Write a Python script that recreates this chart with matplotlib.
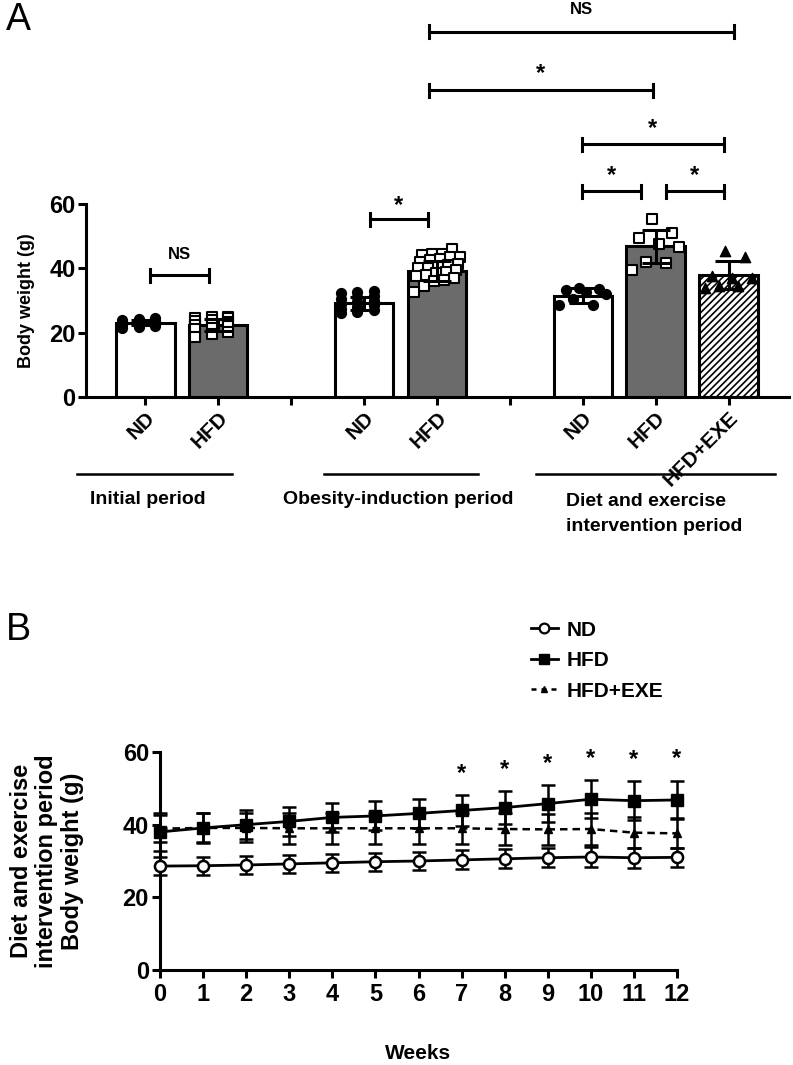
import numpy as np
import matplotlib
matplotlib.use("Agg")
import matplotlib.pyplot as plt
from matplotlib import font_manager
from matplotlib.lines import Line2D

names = {f.name for f in font_manager.fontManager.ttflist}
REG = 'Liberation Sans' if 'Liberation Sans' in names else 'DejaVu Sans'
NAR = 'Liberation Sans Narrow' if 'Liberation Sans Narrow' in names else REG
plt.rcParams['font.family'] = [REG, 'DejaVu Sans']
plt.rcParams['hatch.linewidth'] = 1.2

# ---------------- Panel A data ----------------
bar_labels = ["ND", "HFD", "ND", "HFD", "ND", "HFD", "HFD+EXE"]
bar_positions = [0, 1, 3, 4, 6, 7, 8]
bar_means = [23.1, 22.4, 29.2, 39.2, 31.5, 46.8, 37.9]
bar_sds = [0.8, 1.8, 2.0, 3.0, 2.4, 5.1, 4.4]
bar_kind = ["ND", "HFD", "ND", "HFD", "ND", "HFD", "EXE"]

pts_initial_nd = [24.5, 24.3, 23.8, 23.5, 23.5, 23.2, 23.0, 23.0, 22.8, 22.5, 22.3, 22.0, 21.8, 21.5, 23.4]
pts_initial_hfd = [25.0, 24.8, 24.5, 24.6, 24.0, 23.5, 23.2, 22.8, 22.3, 22.0, 21.5, 21.0, 20.3, 19.5, 18.8]
pts_obese_nd = [33.0, 32.5, 32.3, 31.5, 31.0, 30.5, 30.0, 29.5, 29.0, 28.5, 28.0, 27.5, 27.0, 26.5, 26.0]
pts_obese_hfd = [46.0, 44.5, 44.5, 44.0, 43.5, 43.5, 43.0, 42.5, 42.0, 41.5, 41.0, 40.5,
                 40.0, 40.0, 39.5, 39.0, 38.5, 38.0, 37.5, 37.0, 36.5, 36.0, 34.5, 32.5]
pts_interv_nd = [33.5, 33.9, 33.2, 32.5, 32.0, 30.5, 28.5, 28.5]
pts_interv_hfd = [55.2, 50.9, 49.3, 47.6, 46.7, 42.1, 41.6, 39.5]
pts_interv_exe = [45.5, 43.6, 37.0, 37.5, 37.0, 34.5, 34.0, 34.5]
bar_points = [pts_initial_nd, pts_initial_hfd, pts_obese_nd, pts_obese_hfd,
              pts_interv_nd, pts_interv_hfd, pts_interv_exe]

group_labels = ["Initial period", "Obesity-induction period", "Diet and exercise\nintervention period"]

# ---------------- Panel B data ----------------
weeks = list(range(13))
nd_mean = [28.6, 28.7, 28.9, 29.2, 29.5, 29.8, 30.0, 30.3, 30.6, 30.9, 31.1, 30.9, 31.0]
nd_sd = [2.5, 2.5, 2.5, 2.5, 2.5, 2.5, 2.5, 2.6, 2.6, 2.6, 2.7, 2.7, 2.7]
hfd_mean = [38.0, 39.1, 40.0, 40.9, 42.0, 42.4, 43.1, 43.9, 44.7, 45.8, 47.0, 46.6, 46.8]
hfd_sd = [5.3, 4.2, 4.0, 4.0, 3.9, 4.0, 4.1, 4.3, 4.6, 5.1, 5.2, 5.4, 5.3]
exe_mean = [38.9, 39.1, 39.1, 39.0, 39.0, 39.0, 39.0, 39.0, 38.8, 38.7, 38.8, 37.8, 37.6]
exe_sd = [3.8, 4.0, 4.0, 4.2, 4.2, 4.2, 4.2, 4.2, 4.3, 4.3, 4.3, 4.3, 4.1]
star_weeks = [7, 8, 9, 10, 11, 12]

W, H = 793, 1065
fig = plt.figure(figsize=(W / 100, H / 100), dpi=100)

def fr(x0, y0, x1, y1):
    return [x0 / W, 1 - y1 / H, (x1 - x0) / W, (y1 - y0) / H]

LW = 2.2
# ================= Panel A =================
axA = fig.add_axes(fr(86, 204, 789, 397))
axA.set_xlim(-0.815, 8.83)
axA.set_ylim(0, 60)
for k, (x, m, s, kind, pts) in enumerate(zip(bar_positions, bar_means, bar_sds, bar_kind, bar_points)):
    if kind == "ND":
        fc, hatch = "white", None
    elif kind == "HFD":
        fc, hatch = "#6b6b6b", None
    else:
        fc, hatch = "white", "/////"
    axA.bar(x, m, width=0.8, color=fc, edgecolor="black", linewidth=LW, hatch=hatch, zorder=1)
    n = len(pts)
    order = np.argsort(pts)
    offs = np.linspace(-0.32, 0.32, n)
    perm = [(i * 5) % n for i in range(n)]
    xs = np.empty(n)
    xs[order] = offs[perm]
    if kind == "ND":
        axA.scatter(x + xs, pts, s=50, marker="o", color="black", zorder=3, clip_on=False)
    elif kind == "HFD":
        axA.scatter(x + xs, pts, s=58, marker="s", facecolor="white", edgecolor="black",
                    linewidth=1.5, zorder=3, clip_on=False)
    else:
        axA.scatter(x + xs, pts, s=55, marker="^", color="black", zorder=3, clip_on=False)
    axA.errorbar(x, m, yerr=s, fmt="none", ecolor="black", elinewidth=LW, capsize=10,
                 capthick=LW, zorder=4, clip_on=False)

axA.spines["top"].set_visible(False)
axA.spines["right"].set_visible(False)
for sp in ["left", "bottom"]:
    axA.spines[sp].set_linewidth(LW)
axA.set_yticks([0, 20, 40, 60])
axA.set_xticks([0, 1, 2, 3, 4, 5, 6, 7, 8])
axA.set_xticklabels(["ND", "HFD", "", "ND", "HFD", "", "ND", "HFD", "HFD+EXE"],
                    rotation=45, ha="right", va="top", rotation_mode="anchor",
                    fontsize=15, fontweight="bold")
axA.tick_params(axis="both", width=LW, length=6, direction="out")
axA.tick_params(axis="x", pad=2)
axA.tick_params(axis="y", pad=1.5)
for lab in axA.get_yticklabels():
    lab.set_fontfamily(NAR); lab.set_fontweight("bold"); lab.set_fontsize(17)
axA.set_ylabel("Body weight (g)", fontsize=13, fontweight="bold", labelpad=10)

def bracket(ax, x0, x1, y, text, ty, fs=15):
    ax.plot([x0, x1], [y, y], color="black", lw=LW, clip_on=False)
    h = 2.0
    ax.plot([x0, x0], [y - h, y + h], color="black", lw=LW, clip_on=False)
    ax.plot([x1, x1], [y - h, y + h], color="black", lw=LW, clip_on=False)
    ax.text((x0 + x1) / 2, ty, text, ha="center", va="center", fontsize=fs,
            fontweight="bold", clip_on=False)

def px2x(px):
    return (px - 145.5) / 72.9

bracket(axA, px2x(150), px2x(209), 37.8, "NS", 44.3, fs=12)
bracket(axA, px2x(370), px2x(428), 55.3, "*", 59.5, fs=17)
bracket(axA, px2x(582), px2x(641), 64.0, "*", 68.8, fs=17)
bracket(axA, px2x(666), px2x(724), 64.0, "*", 68.8, fs=17)
bracket(axA, px2x(582), px2x(724), 78.6, "*", 83.4, fs=17)
bracket(axA, px2x(429), px2x(653), 95.4, "*", 100.6, fs=17)
bracket(axA, px2x(429), px2x(734), 113.5, "NS", 120.5, fs=12)

# group lines and labels (figure pixel positions)
for (x0, x1) in [(77, 232), (324, 478), (536, 775)]:
    fig.add_artist(Line2D([x0 / W, x1 / W], [1 - 474 / H, 1 - 474 / H], color="black", lw=1.8))
fig.text(148 / W, 1 - 500 / H, group_labels[0], ha="center", va="center",
         fontsize=14, fontweight="bold", family=NAR)
fig.text(398 / W, 1 - 500 / H, group_labels[1], ha="center", va="center",
         fontsize=14, fontweight="bold", family=NAR)
fig.text(566 / W, 1 - 514 / H, group_labels[2], ha="left", va="center",
         fontsize=14, fontweight="bold", family=NAR, linespacing=1.55)

fig.text(6 / W, 1 - 20 / H, "A", fontsize=27, ha="left", va="center")
fig.text(6 / W, 1 - 630 / H, "B", fontsize=27, ha="left", va="center")

# ================= Panel B =================
axB = fig.add_axes(fr(160, 752, 677, 970))
axB.set_xlim(0, 12)
axB.set_ylim(0, 60)
ebk = dict(elinewidth=1.8, capsize=5, capthick=1.8, clip_on=False)
axB.errorbar(weeks, exe_mean, yerr=exe_sd, color="black", ls=(0, (3, 2)), lw=1.8,
             marker="^", ms=6, label="HFD+EXE", zorder=3, **ebk)
axB.errorbar(weeks, hfd_mean, yerr=hfd_sd, color="black", ls="-", lw=2.0,
             marker="s", ms=8, label="HFD", zorder=4, **ebk)
axB.errorbar(weeks, nd_mean, yerr=nd_sd, color="black", ls="-", lw=2.0,
             marker="o", ms=8, mfc="white", mew=1.8, label="ND", zorder=5, **ebk)
for w in star_weeks:
    axB.text(w, hfd_mean[w] + hfd_sd[w] + 6.0, "*", ha="center", va="center",
             fontsize=17, fontweight="bold")
axB.spines["top"].set_visible(False)
axB.spines["right"].set_visible(False)
for sp in ["left", "bottom"]:
    axB.spines[sp].set_linewidth(LW)
axB.set_xticks(weeks)
axB.set_yticks([0, 20, 40, 60])
axB.tick_params(axis="both", width=LW, length=6, direction="out")
axB.tick_params(axis="y", pad=2)
for lab in axB.get_xticklabels() + axB.get_yticklabels():
    lab.set_fontfamily(NAR); lab.set_fontweight("bold"); lab.set_fontsize(17)
axB.set_ylabel("Diet and exercise\nintervention period\nBody weight (g)", fontsize=17,
               fontweight="bold", labelpad=28, linespacing=1.12)
axB.set_xlabel("Weeks", fontsize=15, fontweight="bold", labelpad=27)

handles = [
    Line2D([], [], color="black", lw=2, marker="o", ms=7, mfc="white", mew=1.6),
    Line2D([], [], color="black", lw=2, marker="s", ms=7),
    Line2D([], [], color="black", lw=1.8, ls=(0, (2, 2)), marker="^", ms=5),
]
fig.legend(handles, ["ND", "HFD", "HFD+EXE"], loc="upper left",
           bbox_to_anchor=(512 / W, 1 - 602 / H), frameon=False, handlelength=1.3,
           handletextpad=0.4, labelspacing=0.55, prop=dict(weight="bold", size=15, family=REG))

fig.savefig("out.png", dpi=100)
